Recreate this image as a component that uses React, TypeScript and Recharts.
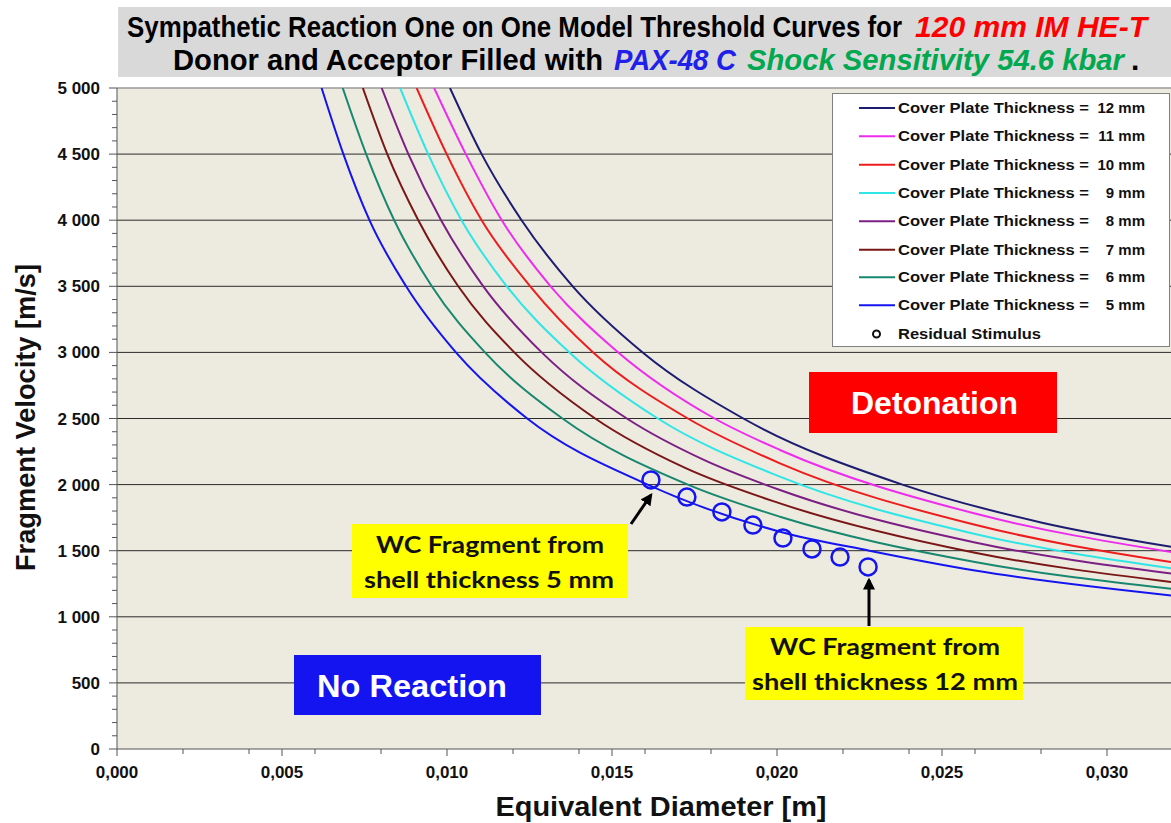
import React from 'react'
import { LineChart, Line, XAxis, YAxis, CartesianGrid, ReferenceLine } from 'recharts'

// threshold curves, read at the gridline crossings + a few columns
const d12 = [0.01009, 0.01105, 0.01226, 0.01381, 0.01593, 0.01898, 0.0238, 0.028, 0.032]
const v12 = [5000, 4500, 4000, 3500, 3000, 2500, 2000, 1714, 1527]
const d11 = [0.00961, 0.01057, 0.01166, 0.01314, 0.01519, 0.01811, 0.02009, 0.026, 0.032]
const v11 = [5000, 4500, 4000, 3500, 3000, 2500, 2262, 1781, 1488]
const d10 = [0.00908, 0.00999, 0.01105, 0.01252, 0.01443, 0.0173, 0.02009, 0.026, 0.032]
const v10 = [5000, 4500, 4000, 3500, 3000, 2500, 2161, 1696, 1412]
const d9 = [0.00858, 0.00943, 0.01044, 0.01181, 0.01371, 0.01639, 0.02009, 0.026, 0.032]
const v9 = [5000, 4500, 4000, 3500, 3000, 2500, 2060, 1627, 1365]
const d8 = [0.00802, 0.00883, 0.00982, 0.0111, 0.01287, 0.01545, 0.0178, 0.02009, 0.026, 0.032]
const v8 = [5000, 4500, 4000, 3500, 3000, 2500, 2185, 1959, 1562, 1325]
const d7 = [0.00745, 0.00819, 0.00913, 0.01034, 0.01204, 0.01449, 0.0172, 0.02009, 0.026, 0.032]
const v7 = [5000, 4500, 4000, 3500, 3000, 2500, 2128, 1858, 1485, 1262]
const d6 = [0.00684, 0.00755, 0.0084, 0.00954, 0.01115, 0.0135, 0.0173, 0.02009, 0.026, 0.032]
const v6 = [5000, 4500, 4000, 3500, 3000, 2500, 2000, 1757, 1415, 1210]
const d5 = [0.0062, 0.00686, 0.00765, 0.00876, 0.01027, 0.01243, 0.01608, 0.02009, 0.0228, 0.026, 0.032]
const v5 = [5000, 4500, 4000, 3500, 3000, 2500, 2000, 1644, 1500, 1350, 1160]

// residual stimulus (WC fragments, shell 5 .. 12 mm)
const stimD = [0.01618, 0.01727, 0.01833, 0.01927, 0.02018, 0.02106, 0.02191, 0.02276]
const stimV = [2035, 1906, 1793, 1694, 1596, 1513, 1452, 1377]

const diameterTicks = [0, 0.002, 0.004, 0.005, 0.006, 0.008, 0.01, 0.012, 0.014, 0.015, 0.016, 0.018, 0.02, 0.022, 0.024, 0.025, 0.026, 0.028, 0.03, 0.032]
const velocityTicks = Array.from({ length: 51 }, (_, i) => i * 100)
const gridVelocities = [500, 1000, 1500, 2000, 2500, 3000, 3500, 4000, 4500]

const curves = [
  { mm: 12, color: '#1c1c70', d: d12, v: v12 },
  { mm: 11, color: '#ee2cee', d: d11, v: v11 },
  { mm: 10, color: '#ee1c1c', d: d10, v: v10 },
  { mm: 9, color: '#2ee6e6', d: d9, v: v9 },
  { mm: 8, color: '#7c1f84', d: d8, v: v8 },
  { mm: 7, color: '#7a1616', d: d7, v: v7 },
  { mm: 6, color: '#17876f', d: d6, v: v6 },
  { mm: 5, color: '#1414f0', d: d5, v: v5 },
]

const series = curves.map((c) => ({ ...c, data: c.d.map((d, i) => ({ d, v: c.v[i] })) }))
const stimulus = stimD.map((d, i) => ({ d, v: stimV[i] }))

const ARIAL = '"Liberation Sans", Arial, sans-serif'
const CALIBRI = 'Lato, "Open Sans", sans-serif'

const fmtVel = (v: number) =>
  v >= 1000 ? `${Math.floor(v / 1000)} ${String(v % 1000).padStart(3, '0')}` : String(v)

// text squeezed horizontally to a given on-screen width (narrow fonts in the original)
const Fit = ({ x, y, w, sx = 1, children, ...rest }: any) => (
  <text
    transform={`translate(${x},${y}) scale(${sx},1)`}
    textLength={w / sx}
    lengthAdjust="spacingAndGlyphs"
    {...rest}
  >
    {children}
  </text>
)

const XTick = ({ x, y, payload }: any) => {
  const major = Math.round(payload.value * 1000) % 5 === 0
  return (
    <g>
      <line x1={x} x2={x} y1={y} y2={y + (major ? 7 : 5)} stroke="#555" />
      {major && (
        <text x={x} y={y + 29} textAnchor="middle" fontFamily={ARIAL} fontWeight="bold" fontSize={17} fill="#111">
          {payload.value.toFixed(3).replace('.', ',')}
        </text>
      )}
    </g>
  )
}

const YTick = ({ x, y, payload }: any) => {
  const major = payload.value % 500 === 0
  return (
    <g>
      <line x1={x - (major ? 8 : 5)} x2={x} y1={y} y2={y} stroke="#555" />
      {major && (
        <text x={100} y={y + 6} textAnchor="end" fontFamily={ARIAL} fontWeight="bold" fontSize={17} fill="#111">
          {fmtVel(payload.value)}
        </text>
      )}
    </g>
  )
}

const legendRows = [108, 136.3, 164.7, 193, 221.3, 249.7, 277.3, 305.3]

const Overlay = () => (
  <svg width={1171} height={823} style={{ position: 'absolute', left: 0, top: 0, pointerEvents: 'none' }}>
    <defs>
      <marker id="head" viewBox="0 0 10 10" refX="8" refY="5" markerWidth="4" markerHeight="4" orient="auto">
        <path d="M0,0 L10,5 L0,10 z" fill="#000" />
      </marker>
    </defs>

    {/* title */}
    <rect x={118} y={7} width={1060} height={70} fill="#d9d9d9" />
    <g fontFamily={ARIAL} fontWeight="bold" fontSize={30}>
      <Fit x={127} y={37} w={775} sx={0.855} fill="#000">
        Sympathetic Reaction One on One Model Threshold Curves for
      </Fit>
      <Fit x={915} y={37} w={232} sx={0.99} fill="#ff0000" fontStyle="italic">
        120 mm IM HE-T
      </Fit>
      <Fit x={173} y={70} w={430} sx={0.97} fill="#000">
        Donor and Acceptor Filled with
      </Fit>
      <Fit x={614} y={70} w={122} sx={0.9} fill="#2020e8" fontStyle="italic">
        PAX-48 C
      </Fit>
      <Fit x={747} y={70} w={377} sx={0.97} fill="#00a850" fontStyle="italic">
        Shock Sensitivity 54.6 kbar
      </Fit>
      <text x={1131} y={70} fill="#000">.</text>
    </g>

    {/* axis titles */}
    <g fontFamily={ARIAL} fontWeight="bold" fill="#111">
      <text transform="translate(35,417.5) rotate(-90)" textAnchor="middle" fontSize={27}
        textLength={307} lengthAdjust="spacingAndGlyphs">
        Fragment Velocity [m/s]
      </text>
      <text x={661} y={816} textAnchor="middle" fontSize={27} textLength={331} lengthAdjust="spacingAndGlyphs">
        Equivalent Diameter [m]
      </text>
    </g>

    {/* legend */}
    <rect x={832.5} y={93.5} width={337} height={253} fill="#fff" stroke="#808080" />
    <g fontFamily={ARIAL} fontWeight="bold" fontSize={15} fill="#111">
      {curves.map((c, i) => (
        <g key={c.mm}>
          <line x1={859} x2={895} y1={legendRows[i]} y2={legendRows[i]} stroke={c.color} strokeWidth={2} />
          <text x={898} y={legendRows[i] + 5} textLength={191} lengthAdjust="spacingAndGlyphs">
            Cover Plate Thickness =
          </text>
          <text x={1145} y={legendRows[i] + 5} textAnchor="end">{`${c.mm} mm`}</text>
        </g>
      ))}
      <circle cx={876.5} cy={334} r={3.5} fill="none" stroke="#111" strokeWidth={2} />
      <text x={898} y={339} textLength={143} lengthAdjust="spacingAndGlyphs">Residual Stimulus</text>
    </g>

    {/* regions */}
    <rect x={809} y={372} width={248} height={61} fill="#ff0000" />
    <text x={851} y={414} fontFamily={ARIAL} fontWeight="bold" fontSize={31} fill="#fff"
      textLength={167} lengthAdjust="spacingAndGlyphs">Detonation</text>
    <rect x={294} y={655} width={247} height={60} fill="#1414f0" />
    <text x={317} y={697} fontFamily={ARIAL} fontWeight="bold" fontSize={31} fill="#fff"
      textLength={190} lengthAdjust="spacingAndGlyphs">No Reaction</text>

    {/* fragment callouts */}
    <g fontFamily={CALIBRI} fontWeight="bold" fontSize={23} fill="#111">
      <rect x={352} y={524} width={276} height={74} fill="#ffff00" />
      <text x={490} y={553} textAnchor="middle" textLength={228} lengthAdjust="spacingAndGlyphs">WC Fragment from</text>
      <text x={489} y={588} textAnchor="middle" textLength={250} lengthAdjust="spacingAndGlyphs">shell thickness 5 mm</text>
      <rect x={745} y={627} width={278} height={73} fill="#ffff00" />
      <text x={885} y={655} textAnchor="middle" textLength={230} lengthAdjust="spacingAndGlyphs">WC Fragment from</text>
      <text x={885} y={690} textAnchor="middle" textLength={266} lengthAdjust="spacingAndGlyphs">shell thickness 12 mm</text>
    </g>
    <line x1={631} y1={524} x2={651} y2={495} stroke="#000" strokeWidth={3} markerEnd="url(#head)" />
    <line x1={869} y1={626} x2={869} y2={580} stroke="#000" strokeWidth={3} markerEnd="url(#head)" />
  </svg>
)

export default function App() {
  return (
    <div style={{ position: 'absolute', left: 0, top: 0, width: 1171, height: 823, overflow: 'hidden', background: '#fff' }}>
      <LineChart width={1180} height={823} margin={{ top: 88, right: 7, bottom: 34, left: 0 }}>
        <CartesianGrid vertical={false} horizontalValues={gridVelocities} stroke="#2b2b2b" fill="#edeae0" />
        <XAxis
          type="number"
          dataKey="d"
          domain={[0, 0.032]}
          ticks={diameterTicks}
          interval={0}
          tick={<XTick />}
          tickLine={false}
          tickSize={0}
          tickMargin={0}
          axisLine={{ stroke: '#555' }}
          height={40}
          allowDataOverflow
        />
        <YAxis
          type="number"
          domain={[0, 5000]}
          ticks={velocityTicks}
          interval={0}
          tick={<YTick />}
          tickLine={false}
          tickSize={0}
          tickMargin={0}
          axisLine={{ stroke: '#555' }}
          width={117}
          allowDataOverflow
        />
        <ReferenceLine y={5000} stroke="#9a9a9a" strokeWidth={1.5} />
        {series.map((s) => (
          <Line
            key={s.mm}
            data={s.data}
            dataKey="v"
            type="monotone"
            stroke={s.color}
            strokeWidth={2}
            dot={false}
            isAnimationActive={false}
          />
        ))}
        <Line
          data={stimulus}
          dataKey="v"
          stroke="none"
          dot={{ r: 8.5, stroke: '#1414f0', strokeWidth: 2.5, fill: 'none' }}
          isAnimationActive={false}
        />
      </LineChart>
      <Overlay />
    </div>
  )
}
